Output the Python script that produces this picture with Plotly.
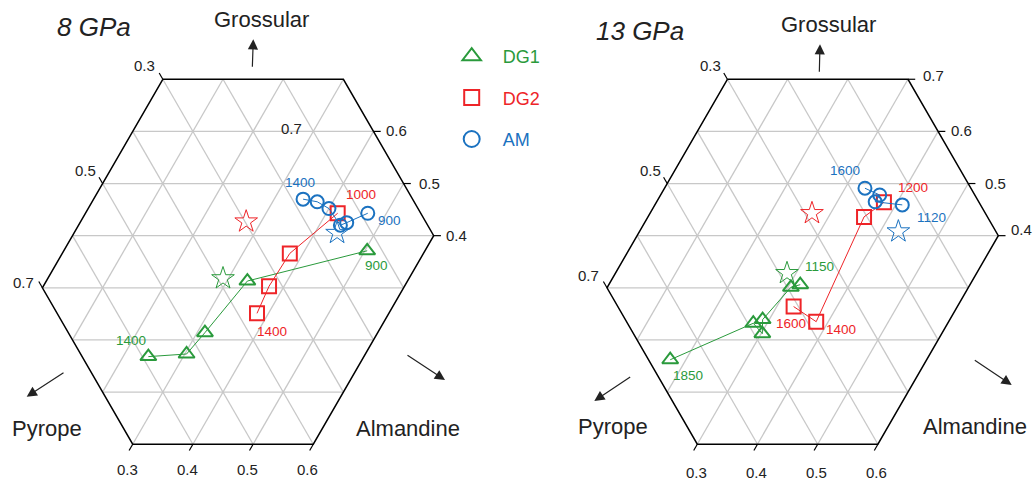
import math
import plotly.graph_objects as go

# ------------------------------------------------------------------
# DATA  (garnet compositions as fractions: grossular, almandine, pyrope)
# ------------------------------------------------------------------
# 8 GPa panel
dg1_8_grs = [0.371, 0.313, 0.214, 0.173, 0.168]
dg1_8_alm = [0.504, 0.334, 0.313, 0.303, 0.242]
dg1_8_py = [0.125, 0.353, 0.473, 0.524, 0.590]
dg1_8_temp = ["900", "", "", "", "1400"]

dg2_8_grs = [0.443, 0.366, 0.303, 0.251]
dg2_8_alm = [0.419, 0.378, 0.375, 0.381]
dg2_8_py = [0.138, 0.256, 0.322, 0.368]
dg2_8_temp = ["1000", "", "", "1400"]

am_8_grs = [0.470, 0.465, 0.452, 0.420, 0.425, 0.443]
am_8_alm = [0.348, 0.374, 0.400, 0.435, 0.443, 0.469]
am_8_py = [0.182, 0.161, 0.148, 0.145, 0.132, 0.088]
am_8_temp = ["1400", "", "", "", "", "900"]

# starting compositions (stars) 8 GPa: DG1, DG2, AM
star_8_grs = [0.318, 0.427, 0.405]
star_8_alm = [0.291, 0.275, 0.437]
star_8_py = [0.391, 0.298, 0.158]

# 13 GPa panel
dg1_13_grs = [0.306, 0.301, 0.239, 0.212, 0.232, 0.162]
dg1_13_alm = [0.318, 0.305, 0.289, 0.302, 0.277, 0.174]
dg1_13_py = [0.376, 0.394, 0.472, 0.486, 0.491, 0.664]
dg1_13_temp = ["1150", "", "", "", "", "1850"]

dg2_13_grs = [0.464, 0.436, 0.235, 0.264]
dg2_13_alm = [0.378, 0.359, 0.380, 0.328]
dg2_13_py = [0.158, 0.205, 0.385, 0.408]
dg2_13_temp = ["1200", "", "1400", "1600"]

am_13_grs = [0.491, 0.478, 0.465, 0.459]
am_13_alm = [0.333, 0.364, 0.363, 0.411]
am_13_py = [0.176, 0.158, 0.172, 0.130]
am_13_temp = ["1600", "", "", "1120"]

star_13_grs = [0.328, 0.443, 0.408]
star_13_alm = [0.285, 0.269, 0.430]
star_13_py = [0.387, 0.288, 0.162]

# diagram window (component ranges) and tick labels
grs_range = [0.0, 0.7]
alm_range = [0.0, 0.6]
py_range = [0.0, 0.7]
grid_values = [0.1, 0.2, 0.3, 0.4, 0.5, 0.6]
py_ticks = [0.3, 0.5, 0.7]
grs_ticks_8 = [0.6, 0.5, 0.4]
grs_ticks_13 = [0.7, 0.6, 0.5, 0.4]
alm_ticks = [0.3, 0.4, 0.5, 0.6]
series_names = ["DG1", "DG2", "AM"]

# ------------------------------------------------------------------
# styling / geometry
# ------------------------------------------------------------------
W, H = 1033, 484
S = 602.0              # pixels per unit of ternary side
Y0 = 444.2             # pixel row of grossular = 0
PANEL_X0 = [132.7, 697.3]   # pixel column of (grs=0, alm=0.3) per panel
DOMAINS = [[0.0, 0.5], [0.5, 1.0]]
GREEN = "#2a9a3c"
RED = "#ee2428"
BLUE = "#1b72c0"
COLORS = [GREEN, RED, BLUE]
FONT = "Liberation Sans, Arial, Helvetica, sans-serif"
R3 = math.sqrt(3) / 2


def txy(grs, alm, py):
    xs, ys = [], []
    for g, a, p in zip(grs, alm, py):
        t = g + a + p
        g, a = g / t, a / t
        xs.append(a + g / 2.0)
        ys.append(g * R3)
    return xs, ys


def pt(g, a):
    return a + g / 2.0, g * R3


fig = go.Figure()

gmin, gmax = grs_range
amin, amax = alm_range
pmin, pmax = py_range

# hexagon frame vertices derived from the ranges
hex_v = [
    (gmax, amin), (gmax, 1 - gmax - pmin), (1 - amax - pmin, amax),
    (gmin, amax), (gmin, 1 - gmin - pmax), (1 - amin - pmax, amin),
]
hex_v.append(hex_v[0])


def grid_segments():
    xs, ys = [], []
    for v in grid_values:
        # grossular = v (horizontal)
        if gmin < v < gmax:
            lo, hi = max(amin, 1 - v - pmax), min(amax, 1 - v - pmin)
            for a in (lo, hi):
                x, y = pt(v, a); xs.append(x); ys.append(y)
            xs.append(None); ys.append(None)
        # almandine = v
        if amin < v < amax:
            lo, hi = max(gmin, 1 - v - pmax), min(gmax, 1 - v - pmin)
            for g in (lo, hi):
                x, y = pt(g, v); xs.append(x); ys.append(y)
            xs.append(None); ys.append(None)
        # pyrope = v
        if pmin < v < pmax:
            lo, hi = max(gmin, 1 - v - amax), min(gmax, 1 - v - amin)
            for g in (lo, hi):
                x, y = pt(g, 1 - v - g); xs.append(x); ys.append(y)
            xs.append(None); ys.append(None)
    return xs, ys


panels = [
    dict(series=[(dg1_8_grs, dg1_8_alm, dg1_8_py, dg1_8_temp),
                 (dg2_8_grs, dg2_8_alm, dg2_8_py, dg2_8_temp),
                 (am_8_grs, am_8_alm, am_8_py, am_8_temp)],
         stars=(star_8_grs, star_8_alm, star_8_py),
         grs_ticks=grs_ticks_8, title="8 GPa"),
    dict(series=[(dg1_13_grs, dg1_13_alm, dg1_13_py, dg1_13_temp),
                 (dg2_13_grs, dg2_13_alm, dg2_13_py, dg2_13_temp),
                 (am_13_grs, am_13_alm, am_13_py, am_13_temp)],
         stars=(star_13_grs, star_13_alm, star_13_py),
         grs_ticks=grs_ticks_13, title="13 GPa"),
]

# pixel offsets of the temperature labels relative to their point
temp_shift = [
    [{0: (9, -15), 4: (-17, 16)}, {0: (23, 19), 3: (15, -18)}, {0: (-3, 17), 5: (22, -7)}],
    [{0: (19, 18), 5: (18, -16)}, {0: (29, 15), 2: (25, -8), 3: (-3, -17)}, {0: (-20, 18), 3: (29, -13)}],
]
symbols = ["triangle-up-open", "square-open", "circle-open"]
sizes = [14, 14, 13]

annotations = []
TL = 0.012  # tick length

for k, pan in enumerate(panels):
    xr = "x" if k == 0 else "x2"
    yr = "y" if k == 0 else "y2"
    # grid
    gx, gy = grid_segments()
    fig.add_trace(go.Scatter(x=gx, y=gy, xaxis=xr, yaxis=yr, mode="lines",
                             line=dict(color="#c8c8c8", width=1.3),
                             hoverinfo="skip", showlegend=False))
    # frame
    fx, fy = zip(*[pt(g, a) for g, a in hex_v])
    fig.add_trace(go.Scatter(x=list(fx), y=list(fy), xaxis=xr, yaxis=yr, mode="lines",
                             line=dict(color="black", width=1.5),
                             hoverinfo="skip", showlegend=False))
    # ticks
    tx, ty = [], []
    for v in py_ticks:
        g = 1 - v - amin
        x1, y1 = pt(g, amin)
        x2, y2 = pt(g + TL, amin - TL)
        tx += [x1, x2, None]; ty += [y1, y2, None]
    for v in pan["grs_ticks"]:
        a = 1 - v - pmin
        x1, y1 = pt(v, a)
        x2, y2 = pt(v, a + TL)
        tx += [x1, x2, None]; ty += [y1, y2, None]
    for v in alm_ticks:
        x1, y1 = pt(gmin, v)
        x2, y2 = pt(gmin - TL, v)
        tx += [x1, x2, None]; ty += [y1, y2, None]
    fig.add_trace(go.Scatter(x=tx, y=ty, xaxis=xr, yaxis=yr, mode="lines",
                             line=dict(color="black", width=1.2),
                             hoverinfo="skip", showlegend=False))

    # data series
    for i, (g, a, p, temps) in enumerate(pan["series"]):
        xs, ys = txy(g, a, p)
        fig.add_trace(go.Scatter(
            x=xs, y=ys, xaxis=xr, yaxis=yr, mode="lines+markers",
            name=series_names[i], showlegend=False, cliponaxis=False,
            line=dict(color=COLORS[i], width=1),
            marker=dict(symbol=symbols[i], size=sizes[i], color=COLORS[i],
                        line=dict(color=COLORS[i], width=2))))
        for j, t in enumerate(temps):
            if t:
                dx, dy = temp_shift[k][i][j]
                annotations.append(dict(x=xs[j], y=ys[j], xref=xr, yref=yr, text=t,
                                        showarrow=False, xshift=dx, yshift=dy,
                                        font=dict(family=FONT, size=13.5, color=COLORS[i])))
    # stars
    sx, sy = txy(*pan["stars"])
    for i in range(3):
        fig.add_trace(go.Scatter(
            x=[sx[i]], y=[sy[i]], xaxis=xr, yaxis=yr, mode="markers",
            showlegend=False, cliponaxis=False,
            marker=dict(symbol="star-open", size=17, color=COLORS[i],
                        line=dict(color=COLORS[i], width=1))))

    # tick labels
    tfont = dict(family=FONT, size=15, color="#222222")
    py_shift = [(-18, 14), (-17, 13), (-19, 5)] if k == 0 else [(-17, 14), (-17, 13), (-19, 12)]
    for v, (dx, dy) in zip(py_ticks, py_shift):
        x, y = pt(1 - v - amin, amin)
        annotations.append(dict(x=x, y=y, xref=xr, yref=yr, text=f"{v:.1f}", showarrow=False,
                                xshift=dx, yshift=dy, font=tfont))
    if k == 0:
        g_shift = [(23, 1), (26, 0), (23, 0)]
    else:
        g_shift = [(25, 4), (23, 1), (27, 0), (23, 6)]
    for v, (dx, dy) in zip(pan["grs_ticks"], g_shift):
        x, y = pt(v, 1 - v - pmin)
        annotations.append(dict(x=x, y=y, xref=xr, yref=yr, text=f"{v:.1f}", showarrow=False,
                                xshift=dx, yshift=dy, font=tfont))
    if k == 0:
        # stray 0.7 label inside the 8 GPa diagram
        x, y = pt(gmax, 1 - gmax - pmin)
        annotations.append(dict(x=x, y=y, xref=xr, yref=yr, text="0.7", showarrow=False,
                                xshift=-52, yshift=-49, font=tfont))
    a_dy = -25 if k == 0 else -28.5
    a_dx = -5.5 if k == 0 else -1
    for v in alm_ticks:
        x, y = pt(gmin, v)
        annotations.append(dict(x=x, y=y, xref=xr, yref=yr, text=f"{v:.1f}", showarrow=False,
                                xshift=a_dx, yshift=a_dy, font=tfont))

# legend-only entries
leg_sizes = [16, 15, 16]
for i in range(3):
    fig.add_trace(go.Scatter(
        x=[None], y=[None], mode="markers", legendgroup=series_names[i],
        name=f'<span style="color:{COLORS[i]}">{series_names[i]}</span>',
        marker=dict(symbol=symbols[i], size=leg_sizes[i], color=COLORS[i],
                    line=dict(color=COLORS[i], width=2))))


def paper(px, py):
    return px / W, 1 - py / H


# panel titles / apex names / arrows (pixel placement)
texts = [
    ("<i>8 GPa</i>", 93.5, 27, 26), ("<i>13 GPa</i>", 639.5, 31, 26),
    ("Grossular", 261.7, 20, 22), ("Grossular", 828.3, 25, 22),
    ("Pyrope", 46.7, 428, 22), ("Pyrope", 613.3, 426, 22),
    ("Almandine", 408.3, 428, 22), ("Almandine", 975, 426, 22),
]
for t, px, py, fs in texts:
    x, y = paper(px, py)
    annotations.append(dict(x=x, y=y, xref="paper", yref="paper", text=t, showarrow=False,
                            xanchor="center", yanchor="middle",
                            font=dict(family=FONT, size=fs, color="#222222")))

arrows = [
    (253.3, 39.3, -1, 29), (26.7, 396.7, 38.3, -25), (445, 380, -39, -25.7),
    (820, 44.3, -0.7, 29), (594.3, 401, 37.4, -25), (1011.7, 385, -38.4, -25.7),
]
for px, py, ax, ay in arrows:
    x, y = paper(px, py)
    annotations.append(dict(x=x, y=y, xref="paper", yref="paper", text="", showarrow=True,
                            ax=ax, ay=ay, arrowhead=2, arrowsize=1.7, arrowwidth=1.2,
                            arrowcolor="#222222", standoff=0))

layout_axes = {}
for k in range(2):
    X0 = PANEL_X0[k]
    d0, d1 = DOMAINS[k]
    px0, px1 = d0 * W, d1 * W
    xrange_ = [0.3 + (px0 - X0) / S, 0.3 + (px1 - X0) / S]
    yrange_ = [-(H - Y0) / S, Y0 / S]
    ax_style = dict(visible=False, showgrid=False, zeroline=False, fixedrange=True)
    layout_axes["xaxis" if k == 0 else "xaxis2"] = dict(domain=DOMAINS[k], range=xrange_, **ax_style)
    layout_axes["yaxis" if k == 0 else "yaxis2"] = dict(domain=[0, 1], range=yrange_,
                                                        anchor="x" if k == 0 else "x2", **ax_style)
layout_axes["xaxis2"]["anchor"] = "y2"

fig.update_layout(
    width=W, height=H, margin=dict(l=0, r=0, t=0, b=0),
    paper_bgcolor="white", plot_bgcolor="white",
    annotations=annotations,
    showlegend=True,
    legend=dict(x=440.7 / W, y=1 - 38 / H, xanchor="left", yanchor="top",
                bgcolor="rgba(0,0,0,0)", traceorder="grouped", tracegroupgap=15,
                itemwidth=52, font=dict(family=FONT, size=18)),
    **layout_axes,
)

fig.write_html("out.html")
